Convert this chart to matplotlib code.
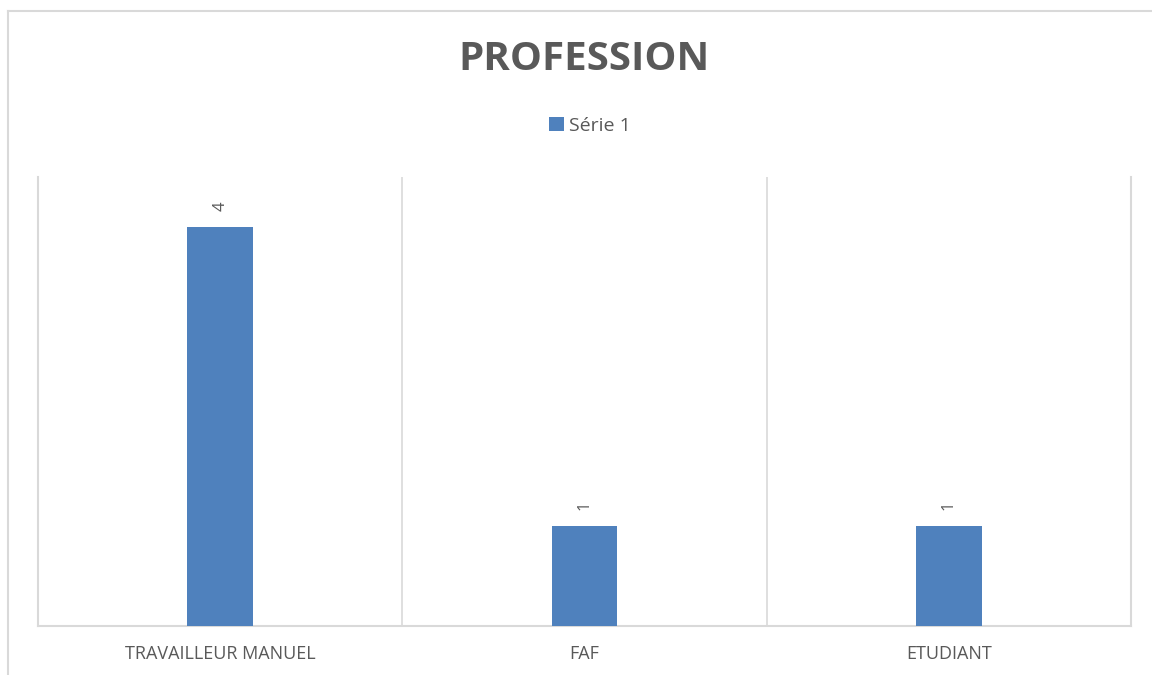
import numpy as np
import matplotlib as mpl
mpl.use('Agg')
import matplotlib.pyplot as pl
from matplotlib.lines import Line2D
from matplotlib.patches import Patch

categories = ['TRAVAILLEUR MANUEL', 'FAF', 'ETUDIANT']
values = [4, 1, 1]
series_name = 'Série 1'
title = 'PROFESSION'

bar_color = '#4f81bd'
grid_color = '#d9d9d9'
text_color = '#595959'

mpl.rcParams['font.family'] = ['Open Sans', 'DejaVu Sans']

fig = pl.figure(figsize=(11.52, 6.75), dpi=100)
W, H = 1152.0, 675.0

# outer chart frame (only top and left visible in the crop)
fig.add_artist(Line2D([8 / W, 1.0], [1 - 11 / H, 1 - 11 / H], color=grid_color, lw=1.5))
fig.add_artist(Line2D([8 / W, 8 / W], [0.0, 1 - 11 / H], color=grid_color, lw=1.5))

ax = fig.add_axes([38 / W, 49 / H, (1131 - 38) / W, (626 - 177) / H])
x = np.arange(len(categories))
ax.bar(x, values, width=0.18, color=bar_color, zorder=3)

ax.set_xlim(-0.5, len(categories) - 0.5)
ax.set_ylim(0, 4.5)
ax.set_yticks([])
ax.set_xticks(x)
ax.set_xticklabels(categories, color=text_color, fontsize=13)
ax.tick_params(axis='x', length=0, pad=14)

# category separators
for b in np.arange(0.5, len(categories) - 0.5, 1.0):
    ax.axvline(b, color=grid_color, lw=1.2, zorder=1)

for side in ['left', 'right', 'bottom']:
    ax.spines[side].set_color(grid_color)
    ax.spines[side].set_linewidth(1.5)
ax.spines['top'].set_visible(False)

# data labels
for xi, v in zip(x, values):
    ax.annotate(str(v), (xi, v), xytext=(0, 21), textcoords='offset pixels',
                ha='center', va='center', rotation=90, color=text_color, fontsize=12)

fig.text(584 / W, 1 - 60 / H, title, ha='center', va='center',
         fontsize=29, fontweight='bold', color=text_color)

leg = fig.legend(handles=[Patch(facecolor=bar_color, edgecolor='none', label=series_name)],
                 loc='center', bbox_to_anchor=(590 / W, 1 - 126 / H), frameon=False,
                 fontsize=14, handlelength=0.75, handleheight=0.75, handletextpad=0.3,
                 labelcolor=text_color)

fig.savefig('out.png', dpi=100)
